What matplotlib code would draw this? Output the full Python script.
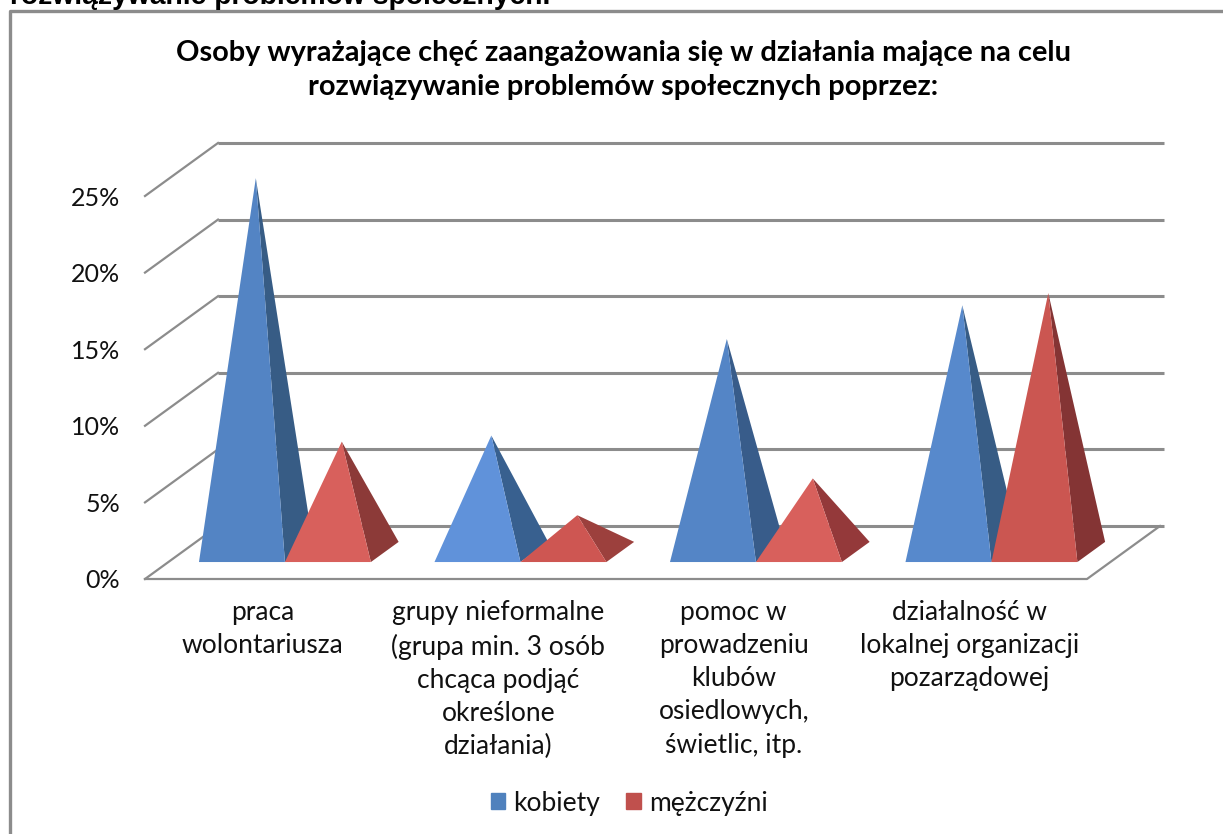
import matplotlib
matplotlib.use('Agg')
import matplotlib.pyplot as plt
from matplotlib.lines import Line2D
from matplotlib.patches import Patch

plt.rcParams['font.family'] = ['Lato', 'DejaVu Sans']

# dane (%)
categories = ['praca\nwolontariusza',
              'grupy nieformalne\n(grupa min. 3 osób\nchcąca podjąć\nokreślone\ndziałania)',
              'pomoc w\nprowadzeniu\nklubów\nosiedlowych,\nświetlic, itp.',
              'działalność w\nlokalnej organizacji\npozarządowej']
kobiety = [24.4, 7.6, 13.9, 16.1]
mezczyzni = [7.2, 2.4, 4.8, 16.9]
y_ticks = [0, 5, 10, 15, 20, 25]
y_labels = ['0%', '5%', '10%', '15%', '20%', '25%']
series_names = ['kobiety', 'mężczyźni']
title = 'Osoby wyrażające chęć zaangażowania się w działania mające na celu\nrozwiązywanie problemów społecznych poprzez:'
heading = 'rozwiązywanie problemów społecznych.'

W, H = 1223, 834
blue_front = ['#5384C4', '#6092DA', '#5485C6', '#5789CC']
blue_side = ['#375C85', '#38608F', '#385C8A', '#375C85']
red_front = ['#D8605C', '#CE5652', '#D8605C', '#CB5651']
red_side = ['#8C3A38', '#9C403D', '#94393A', '#843434']
grid_color = '#8C8C8C'

# glebokosc 3D w jednostkach danych
DX = 73 / 235.5
DY = 53 / 76.6 * 5
D_FRONT, D_BACK = 0.32, 0.70
BAR_W = 0.365


def pyramid(ax, x0, value, front, side):
    '''ostroslup: sciana przednia i prawa'''
    fx = x0 + D_FRONT * DX
    fy = D_FRONT * DY
    bx = x0 + BAR_W + D_BACK * DX
    by = D_BACK * DY
    mid = (D_FRONT + D_BACK) / 2
    tip_x = x0 + BAR_W / 2 + mid * DX
    tip_y = mid * DY + value
    ax.fill([fx + BAR_W, bx, tip_x], [fy, by, tip_y], color=side, lw=0, clip_on=False, zorder=3)
    ax.fill([fx, fx + BAR_W, tip_x], [fy, fy, tip_y], color=front, lw=0, clip_on=False, zorder=3)


fig = plt.figure(figsize=(W / 100, H / 100), dpi=100)
ax = fig.add_axes([145 / W, 1 - 579 / H, 942 / W, 383 / H])
ax.set_xlim(0, 4)
ax.set_ylim(0, 25)
ax.patch.set_alpha(0)
for s in ax.spines.values():
    s.set_visible(False)

# siatka na tylnej scianie i lewej scianie
for v in y_ticks:
    ax.plot([0, DX], [v, v + DY], color=grid_color, lw=1.6, clip_on=False)
    ax.plot([DX, 4 + DX + 0.015], [v + DY, v + DY], color=grid_color, lw=2.2, clip_on=False, solid_capstyle='butt')
# podloga
ax.plot([0, 4, 4 + DX], [0, 0, DY], color=grid_color, lw=1.6, clip_on=False)

for i in range(len(categories)):
    pyramid(ax, i + 0.13, kobiety[i], blue_front[i], blue_side[i])
    pyramid(ax, i + 0.13 + BAR_W, mezczyzni[i], red_front[i], red_side[i])

ax.set_yticks(y_ticks, y_labels, fontsize=18, color='#111111')
ax.set_xticks([i + 0.5 for i in range(len(categories))])
ax.set_xticklabels(categories, fontsize=19, color='#111111', linespacing=1.41, va='top')
ax.tick_params(axis='y', length=0, pad=18)
ax.tick_params(axis='x', length=0, pad=15)

# ramka wykresu: tylko lewa i gorna krawedz widoczna
fig.add_artist(Line2D([10.5 / W, 10.5 / W, 1], [0, 1 - 11 / H, 1 - 11 / H],
                      color='#8C8C8C', lw=2.4))

fig.text(623 / W, 1 - 70 / H, title, ha='center', va='center', fontsize=20.9, fontweight='bold',
         color='black', linespacing=1.36)
fig.text(10 / W, 1 - 4 / H, heading, ha='left', va='baseline', fontsize=20.3, fontweight='bold',
         color='black', family='Liberation Sans')

handles = [Patch(color='#4F81BD', label=series_names[0]), Patch(color='#C0504D', label=series_names[1])]
fig.legend(handles=handles, loc='center', bbox_to_anchor=(629 / W, 1 - 803 / H), ncol=2, frameon=False,
           fontsize=19, handlelength=0.55, handleheight=0.55, handletextpad=0.3, columnspacing=1.0,
           labelcolor='#111111')

fig.savefig('out.png', dpi=100)
